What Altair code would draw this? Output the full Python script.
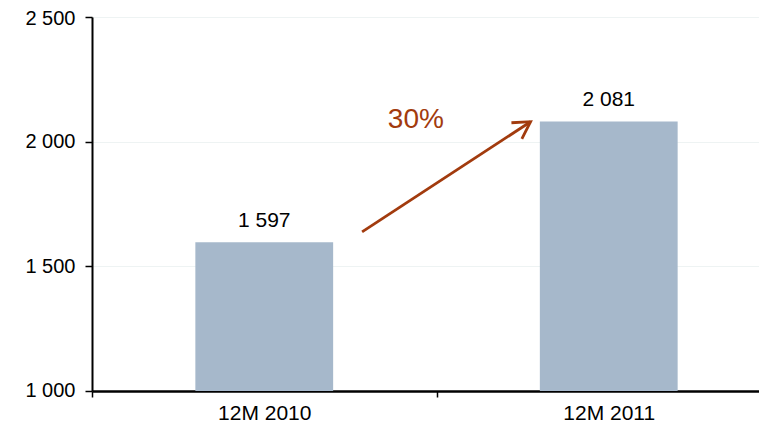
import altair as alt
import pandas as pd

# ---- data ----
categories = ["12M 2010", "12M 2011"]
values = [1597, 2081]
y_ticks = [1000, 1500, 2000, 2500]
growth_label = "30%"

# arrow annotation (x in category-step units, y in data units)
arrow_x = [0.784, 1.273]
arrow_y = [1638, 2080]
growth_pos = [0.94, 2087]

BAR_COLOR = "#A6B8CB"
ACCENT = "#A23B0E"
FONT = "Liberation Sans"
Y_MIN, Y_MAX = 1000, 2500
RANGE_PX = 689

bars_df = pd.DataFrame({"cat": categories, "value": values})
arrow_df = pd.DataFrame({"x": [arrow_x[0]], "x2": [arrow_x[1]],
                         "y": [arrow_y[0]], "y2": [arrow_y[1]]})
head_df = pd.DataFrame({"x": [arrow_x[1]], "y": [arrow_y[1]]})
txt_df = pd.DataFrame({"x": [growth_pos[0]], "y": [growth_pos[1]], "t": [growth_label]})

yscale = alt.Scale(domain=[Y_MIN, Y_MAX], nice=False, zero=False)
xband = alt.Scale(domain=categories, paddingInner=0, paddingOuter=0, range=[0, RANGE_PX])
xq = alt.Scale(domain=[0, 2], range=[0, RANGE_PX], nice=False, zero=False)

xaxis = alt.Axis(title=None, labelAngle=0, tickBand="extent", labelFont=FONT,
                 labelFontSize=21, labelColor="black", domainColor="black",
                 domainWidth=2.5, tickColor="black", tickWidth=1.5, tickSize=6,
                 labelPadding=5, grid=False)
yaxis = alt.Axis(title=None, values=y_ticks, labelFont=FONT, labelFontSize=20,
                 labelColor="black", domainColor="black", domainWidth=2,
                 tickColor="black", tickWidth=1.5, tickSize=7, labelPadding=10,
                 labelFlush=True, labelFlushOffset=9,
                 gridColor="#EEF3F3", gridWidth=1,
                 labelExpr="replace(format(datum.value, ','), ',', ' ')")

base = alt.Chart(bars_df)
bars = base.mark_bar(color=BAR_COLOR, width=alt.RelativeBandSize(0.4)).encode(
    x=alt.X("cat:N", scale=xband, axis=xaxis, sort=categories),
    y=alt.Y("value:Q", scale=yscale, axis=yaxis),
    y2=alt.datum(Y_MIN),
)
labels = base.transform_calculate(
    lab="replace(format(datum.value, ','), ',', ' ')"
).mark_text(font=FONT, fontSize=21, color="black", baseline="alphabetic", dy=-15).encode(
    x=alt.X("cat:N", scale=xband, sort=categories),
    y=alt.Y("value:Q", scale=yscale),
    text="lab:N",
)

arrow = alt.Chart(arrow_df).mark_rule(color=ACCENT, strokeWidth=2.8).encode(
    x=alt.X("x:Q", scale=xq, axis=None),
    x2="x2:Q",
    y=alt.Y("y:Q", scale=yscale),
    y2="y2:Q",
)
head = alt.Chart(head_df).mark_point(
    shape="M -1 -0.577 L 0 0 L -1 0.577", filled=False, size=1100,
    stroke=ACCENT, strokeWidth=2.8, angle=327, opacity=1,
).encode(
    x=alt.X("x:Q", scale=xq, axis=None),
    y=alt.Y("y:Q", scale=yscale),
)
growth = alt.Chart(txt_df).mark_text(font=FONT, fontSize=28, color=ACCENT,
                                      baseline="middle", align="center").encode(
    x=alt.X("x:Q", scale=xq, axis=None),
    y=alt.Y("y:Q", scale=yscale),
    text="t:N",
)

left = alt.layer(bars, labels)
right = alt.layer(arrow, head, growth)
chart = alt.layer(left, right).resolve_scale(x="independent").properties(
    width=667, height=374,
    autosize=alt.AutoSizeParams(type="none"),
    padding={"left": 84, "top": 9, "right": 0, "bottom": 31},
).configure_view(stroke=None).configure(background="white")

chart.save("out.html", embed_options={"renderer": "svg", "actions": False})
